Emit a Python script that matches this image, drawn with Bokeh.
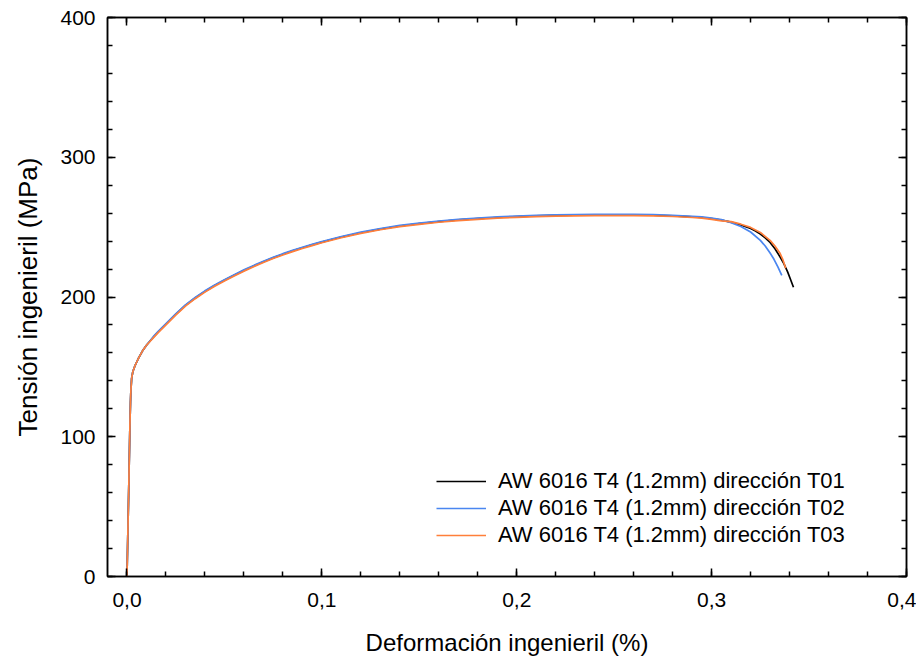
from bokeh.plotting import figure
from bokeh.models import (Range1d, LinearAxis, CustomJSTickFormatter, Legend, LegendItem,
                          SingleIntervalTicker)
from bokeh.embed import file_html
from bokeh.resources import INLINE

# ---- data ----
x_common = [0, 0.0005, 0.001, 0.0015, 0.0018, 0.002, 0.0024, 0.003, 0.004, 0.005, 0.006, 0.008,
            0.01, 0.0135, 0.016, 0.02, 0.025, 0.03, 0.035, 0.04, 0.045, 0.05, 0.055, 0.06, 0.065,
            0.07, 0.075, 0.08, 0.085, 0.09, 0.095, 0.1, 0.11, 0.12, 0.13, 0.14, 0.15, 0.16, 0.17,
            0.18, 0.19, 0.2, 0.21, 0.22, 0.23, 0.24, 0.25, 0.26, 0.27, 0.28, 0.29, 0.295, 0.3,
            0.305]
y_common = [0, 35, 70, 108, 125, 133, 142, 146.5, 150.5, 153.5, 156.5, 161.5,
            165.5, 171.2, 175, 180.5, 187.5, 194, 199.3, 204, 208.2, 212, 215.6, 219, 222.2,
            225.2, 228, 230.6, 233, 235.2, 237.3, 239.3, 242.9, 246, 248.6, 250.8, 252.5, 254, 255.2,
            256.1, 256.9, 257.5, 258, 258.4, 258.6, 258.7, 258.8, 258.7, 258.5, 258.1, 257.4, 256.9, 256.1,
            255]

x_t01 = x_common + [0.31, 0.315, 0.32, 0.3225, 0.325, 0.3275, 0.33, 0.3325, 0.335, 0.337, 0.339, 0.3405, 0.342]
y_t01 = y_common + [253.6, 251.6, 249, 247.2, 245, 242.3, 239, 234.5, 229, 224, 218, 212.5, 207]

x_t02 = x_common + [0.31, 0.315, 0.32, 0.325, 0.3275, 0.33, 0.332, 0.334, 0.336]
y_t02 = [v + (0.4 if i > 12 else 0) for i, v in enumerate(y_common)] \
    + [253.2, 250.5, 246.5, 240.5, 236.5, 231.5, 227, 221.5, 215.5]

x_t03 = x_common + [0.31, 0.315, 0.32, 0.325, 0.33, 0.3325, 0.335, 0.3365, 0.338]
y_t03 = [v - (0.5 if i > 12 else 0) for i, v in enumerate(y_common)] \
    + [253.9, 252.1, 249.8, 246.2, 240.5, 236.5, 231.5, 227, 220.5]

labels = ["AW 6016 T4 (1.2mm) dirección T01",
          "AW 6016 T4 (1.2mm) dirección T02",
          "AW 6016 T4 (1.2mm) dirección T03"]
colors = ["#000000", "#4A86F0", "#FF7F3A"]

x_title = "Deformación ingenieril (%)"
y_title = "Tensión ingenieril (MPa)"

FONT = "Liberation Sans"

p = figure(frame_width=799, frame_height=559, output_backend="svg", toolbar_location=None,
           x_range=Range1d(-0.01, 0.4), y_range=Range1d(0, 400),
           min_border_left=107, min_border_top=17, min_border_right=10, min_border_bottom=80,
           background_fill_color="white", border_fill_color="white")
p.grid.visible = False
p.outline_line_color = "black"
p.outline_line_width = 1.5

renderers = []
for xs, ys, c in zip([x_t01, x_t02, x_t03], [y_t01, y_t02, y_t03], colors):
    r = p.line(xs, ys, line_color=c, line_width=1.7, line_join="round")
    renderers.append(r)

xfmt = CustomJSTickFormatter(code="return tick.toFixed(1).replace('.', ',');")
yfmt = CustomJSTickFormatter(code="return tick.toFixed(0);")
blank = CustomJSTickFormatter(code="return '';")

def style(ax, labels_on=True):
    ax.axis_line_color = "black"
    ax.axis_line_width = 1.5
    ax.major_tick_in = 8
    ax.major_tick_out = 0
    ax.minor_tick_in = 5
    ax.minor_tick_out = 0
    ax.major_tick_line_color = "black"
    ax.minor_tick_line_color = "black"
    ax.major_tick_line_width = 1.5
    ax.minor_tick_line_width = 1.5
    ax.major_label_text_font = FONT
    ax.major_label_text_font_size = "21px"
    ax.major_label_text_color = "black"
    ax.axis_label_text_font = FONT
    ax.axis_label_text_font_size = "24px"
    ax.axis_label_text_font_style = "normal"
    ax.axis_label_text_color = "black"
    ax.axis_label_standoff = 19
    ax.major_label_standoff = 16 if labels_on else 0

xa = p.xaxis[0]
xa.ticker = SingleIntervalTicker(interval=0.1, num_minor_ticks=5)
xa.formatter = xfmt
xa.axis_label = x_title
style(xa)

ya = p.yaxis[0]
ya.ticker = SingleIntervalTicker(interval=100, num_minor_ticks=5)
ya.formatter = yfmt
ya.axis_label = y_title
style(ya)
ya.major_label_standoff = 12
ya.axis_label_standoff = 14
ya.axis_label_text_font_size = "26px"

top = LinearAxis(ticker=SingleIntervalTicker(interval=0.1, num_minor_ticks=5), formatter=blank)
style(top, False)
p.add_layout(top, "above")
right = LinearAxis(ticker=SingleIntervalTicker(interval=100, num_minor_ticks=5), formatter=blank)
style(right, False)
p.add_layout(right, "right")

legend = Legend(items=[LegendItem(label=l, renderers=[r]) for l, r in zip(labels, renderers)],
                location=(329, 28), orientation="vertical",
                padding=0, margin=0, spacing=1,
                glyph_width=50, glyph_height=20, label_height=20, label_standoff=12,
                label_text_font=FONT, label_text_font_size="22px", label_text_color="black",
                border_line_color=None, background_fill_alpha=0)
p.add_layout(legend, "center")

open("out.html", "w").write(file_html(p, INLINE))
